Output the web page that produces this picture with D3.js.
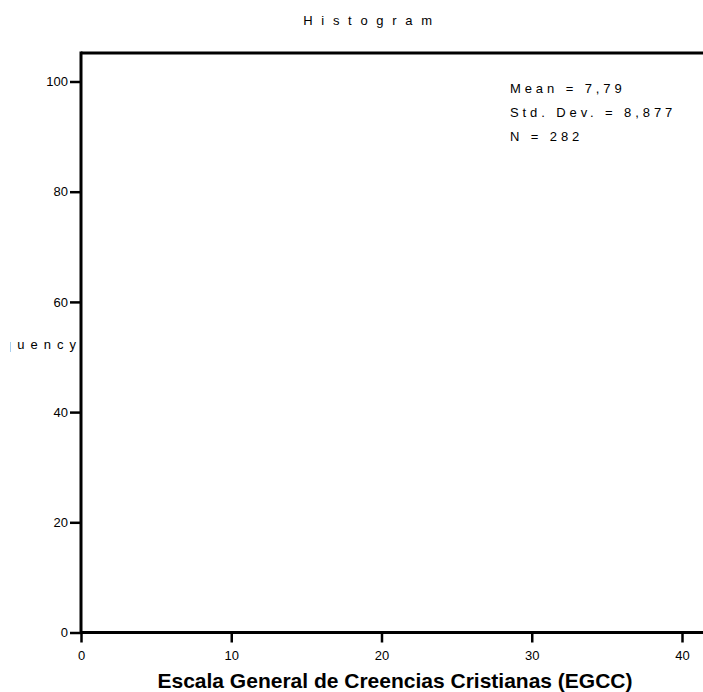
<!DOCTYPE html>
<html><head><meta charset="utf-8">
<script src="https://cdn.jsdelivr.net/npm/d3@7"></script>
<style>
html,body{margin:0;padding:0;background:#fff;overflow:hidden;}
text{font-family:Arial,"Liberation Sans",sans-serif;fill:#000;}
</style></head>
<body>
<svg id="chart" width="703" height="692"></svg>
<script>
// Data (histogram bins are not shown in the reference: empty)
const binStarts = [];
const binCounts = [];
const xTicks = [0, 10, 20, 30, 40];
const yTicks = [0, 20, 40, 60, 80, 100];
const statLabels = ["Mean = 7,79", "Std. Dev. = 8,877", "N = 282"];
const chartTitle = "Histogram";
const xTitle = "Escala General de Creencias Cristianas (EGCC)";
const yTitle = "Frequency";

const svg = d3.select("#chart");
const W = 703, H = 692;
const x = d3.scaleLinear().domain([0, 40]).range([81, 682]);
const y = d3.scaleLinear().domain([0, 100]).range([632.5, 81.5]);
const yTop = 53;

svg.append("defs").append("clipPath").attr("id", "ytclip")
  .append("rect").attr("x", 10.5).attr("y", 320).attr("width", 70).attr("height", 50);

// bars (none)
svg.append("g").selectAll("rect")
  .data(binStarts.map((s, i) => ({s, c: binCounts[i]})))
  .join("rect")
  .attr("x", d => x(d.s)).attr("width", d => x(d.s + 1) - x(d.s))
  .attr("y", d => y(d.c)).attr("height", d => y(0) - y(d.c))
  .attr("fill", "#fff").attr("stroke", "#000");

// frame top line
svg.append("line").attr("x1", x(0)).attr("x2", W).attr("y1", yTop).attr("y2", yTop)
  .attr("stroke", "#000").attr("stroke-width", 3);

// x axis
const gx = svg.append("g").attr("transform", `translate(0,${y(0)})`)
  .call(d3.axisBottom(x).tickValues(xTicks).tickSize(10).tickSizeOuter(0).tickFormat(d3.format("d")));
gx.select(".domain").remove();
gx.append("line").attr("x1", x(0)).attr("x2", W).attr("stroke", "#000").attr("stroke-width", 3);
gx.selectAll(".tick line").attr("stroke-width", 2.5);
gx.selectAll(".tick text").attr("font-size", 13).attr("y", 18).attr("dy", "0.71em")
  .style("font-family", "Arial, 'Liberation Sans', sans-serif");

// y axis
const gy = svg.append("g").attr("transform", `translate(${x(0)},0)`)
  .call(d3.axisLeft(y).tickValues(yTicks).tickSize(11).tickSizeOuter(0).tickFormat(d3.format("d")));
gy.select(".domain").remove();
gy.append("line").attr("y1", yTop - 1.5).attr("y2", y(0)).attr("stroke", "#000").attr("stroke-width", 3);
gy.selectAll(".tick line").attr("stroke-width", 2.5);
gy.selectAll(".tick text").attr("font-size", 13).attr("x", -13)
  .style("font-family", "Arial, 'Liberation Sans', sans-serif");

// title
svg.append("text").attr("x", 372).attr("y", 25).attr("text-anchor", "middle")
  .attr("font-size", 13).style("letter-spacing", "8.7px").text(chartTitle);

// y title (horizontal, clipped at left as in the reference)
svg.append("text").attr("x", 82).attr("y", 349).attr("text-anchor", "end")
  .attr("clip-path", "url(#ytclip)")
  .attr("font-size", 13).style("letter-spacing", "6px").text(yTitle);

// x title
svg.append("text").attr("x", 395).attr("y", 688).attr("text-anchor", "middle")
  .attr("font-size", 21).attr("font-weight", "bold").text(xTitle);

// stats
svg.append("g").selectAll("text").data(statLabels).join("text")
  .attr("x", 510).attr("y", (d, i) => 93 + i * 24)
  .attr("font-size", 13).style("letter-spacing", "3.9px").text(d => d);
</script>
</body></html>
